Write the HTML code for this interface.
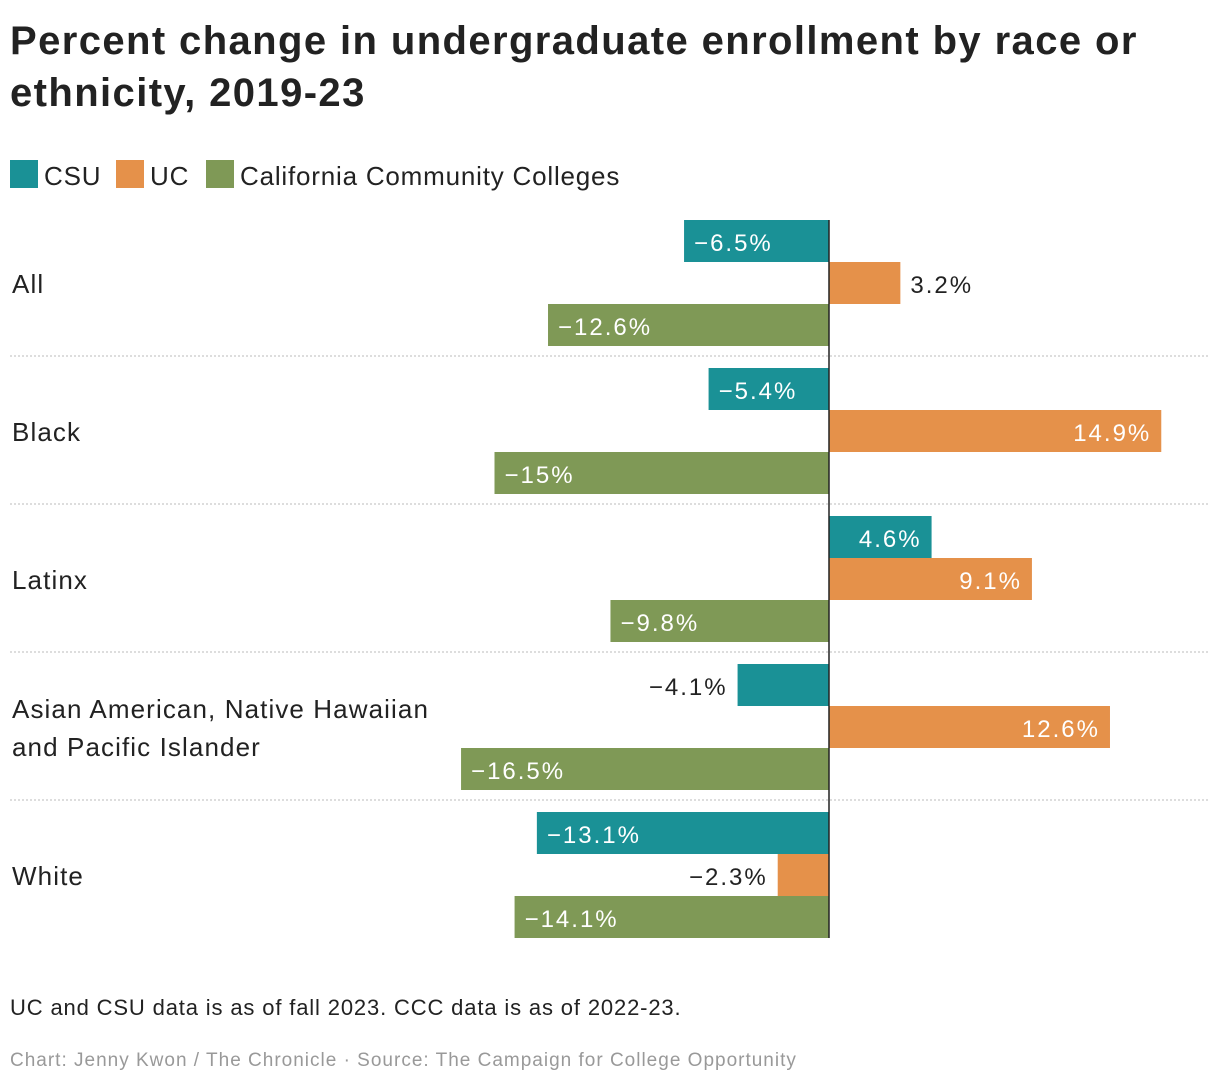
<!DOCTYPE html>
<html><head><meta charset="utf-8"><style>
body{margin:0;background:#fff;font-family:"Liberation Sans",sans-serif;}
</style></head><body>
<svg id="c" width="1220" height="1086" xmlns="http://www.w3.org/2000/svg">
<text x="10" y="54" font-size="40" font-weight="bold" fill="#222" letter-spacing="1.4">Percent change in undergraduate enrollment by race or</text>
<text x="10" y="106" font-size="40" font-weight="bold" fill="#222" letter-spacing="1.4">ethnicity, 2019-23</text>
<g letter-spacing="0.8">
<rect x="10" y="160" width="28" height="28" fill="#1a9196"/>
<text x="44" y="185" font-size="26" fill="#222">CSU</text>
<rect x="116" y="160" width="28" height="28" fill="#e5914a"/>
<text x="150" y="185" font-size="26" fill="#222">UC</text>
<rect x="206" y="160" width="28" height="28" fill="#7f9956"/>
<text x="240" y="185" font-size="26" fill="#222">California Community Colleges</text>
</g>
<g id="plot"></g>
<text x="10" y="1015" font-size="22" fill="#222" letter-spacing="0.85">UC and CSU data is as of fall 2023. CCC data is as of 2022-23.</text>
<text x="10" y="1066" font-size="19" fill="#999" letter-spacing="1">Chart: Jenny Kwon / The Chronicle · Source: The Campaign for College Opportunity</text>
</svg>
<script>
const categories=[["All"],["Black"],["Latinx"],["Asian American, Native Hawaiian","and Pacific Islander"],["White"]];
const csu=[-6.5,-5.4,4.6,-4.1,-13.1];
const uc=[3.2,14.9,9.1,12.6,-2.3];
const ccc=[-12.6,-15,-9.8,-16.5,-14.1];
const series=[csu,uc,ccc];
const colors=["#1a9196","#e5914a","#7f9956"];
const ns="http://www.w3.org/2000/svg";
const g=document.getElementById("plot");
const x0=829,pxPer=22.3,top0=220,groupH=148,barH=42;
const xs=v=>x0+v*pxPer;
function mk(t,a){const e=document.createElementNS(ns,t);for(const k in a)e.setAttribute(k,a[k]);g.appendChild(e);return e;}
function fmt(v){return (v<0?"\u2212":"")+Math.abs(v)+"%";}
categories.forEach((c,i)=>{
  const gy=top0+i*groupH;
  const lines=c.length;
  c.forEach((l,j)=>{
    const t=mk("text",{x:12,y:gy+73+(j-(lines-1)/2)*38,"font-size":26,fill:"#222","letter-spacing":1.1});
    t.textContent=l;
    
    
  });
  if(i>0){
    const ln=mk("line",{x1:10,x2:1210,y1:gy-12,y2:gy-12,stroke:"#bbb","stroke-dasharray":"2,2"});
    
    
  }
  series.forEach((s,k)=>{
    const v=s[i],y=gy+k*barH;
    const xa=Math.min(xs(0),xs(v)),w=Math.abs(xs(v)-xs(0));
    const r=mk("rect",{x:xa,y:y,width:w,height:barH,fill:colors[k]});
    
    
    const inside=w>95;
    let tx,anchor,fill;
    if(v<0){ if(inside){tx=xa+10;anchor="start";fill="#fff";}else{tx=xa-10;anchor="end";fill="#222";} }
    else { if(inside){tx=xa+w-10;anchor="end";fill="#fff";}else{tx=xa+w+10;anchor="start";fill="#222";} }
    const t=mk("text",{x:tx,y:y+31,"font-size":24,fill:fill,"text-anchor":anchor,"letter-spacing":2});
    t.textContent=fmt(v);
    
    
  });
});
const ax=mk("line",{x1:x0,x2:x0,y1:top0,y2:top0+4*groupH+3*barH,stroke:"#222","stroke-width":1.5});


</script>
</body></html>
